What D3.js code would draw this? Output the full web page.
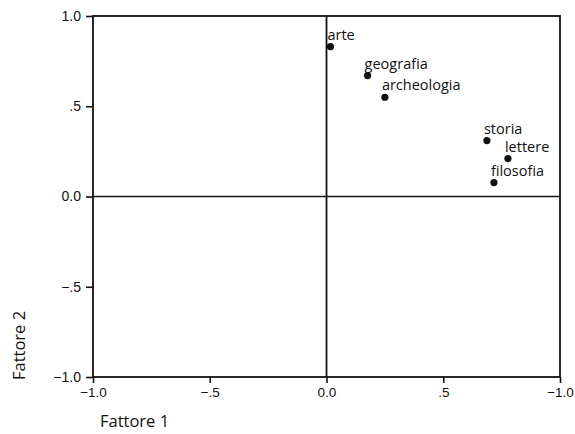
<!DOCTYPE html>
<html lang="it">
  <head>
    <meta charset="UTF-8" />
    <title>Fattore 1 / Fattore 2</title>
    <script src="https://d3js.org/d3.v7.min.js"></script>
    <style>
      body {
        margin: 0;
        background: #fff;
        font-family: "Open Sans", sans-serif;
      }
      .tick text {
        font-size: 14px;
        fill: #111;
      }
      .label {
        font-size: 14.5px;
        fill: #111;
      }
      .title {
        font-size: 16.5px;
        fill: #111;
      }
    </style>
  </head>
  <body>
    <svg id="chart" width="575" height="434"></svg>
    <script>
      // variables and their loadings on the two factors
      const variables = ["arte", "geografia", "archeologia", "storia", "lettere", "filosofia"];
      const fattore1 = [0.017, 0.176, 0.25, 0.687, 0.777, 0.717];
      const fattore2 = [0.83, 0.67, 0.55, 0.31, 0.21, 0.077];

      const xTicks = [-1, -0.5, 0, 0.5, 1];
      const xTickLabels = ["\u22121.0", "\u2212.5", "0.0", ".5", "\u22121.0"];
      const yTicks = [-1, -0.5, 0, 0.5, 1];
      const yTickLabels = ["\u22121.0", "\u2212.5", "0.0", ".5", "1.0"];

      const svg = d3.select("#chart");
      const margin = { top: 16, right: 15, bottom: 57, left: 93 };
      const width = +svg.attr("width") - margin.left - margin.right;
      const height = +svg.attr("height") - margin.top - margin.bottom;

      const g = svg
        .append("g")
        .attr("transform", `translate(${margin.left},${margin.top})`);

      const x = d3.scaleLinear().domain([-1, 1]).range([0, width]);
      const y = d3.scaleLinear().domain([-1, 1]).range([height, 0]);

      // frame
      g.append("rect")
        .attr("width", width)
        .attr("height", height)
        .attr("fill", "none")
        .attr("stroke", "#111")
        .attr("stroke-width", 1.8);

      // zero lines
      g.append("line")
        .attr("x1", x(0)).attr("x2", x(0))
        .attr("y1", 0).attr("y2", height)
        .attr("stroke", "#111").attr("stroke-width", 1.8);
      g.append("line")
        .attr("x1", 0).attr("x2", width)
        .attr("y1", y(0)).attr("y2", y(0))
        .attr("stroke", "#111").attr("stroke-width", 1.4);

      // axes
      const xAxis = g.append("g")
        .attr("transform", `translate(0,${height})`)
        .call(
          d3.axisBottom(x)
            .tickValues(xTicks)
            .tickSize(6)
            .tickPadding(4)
            .tickFormat((d, i) => xTickLabels[i])
        );
      const yAxis = g.append("g")
        .call(
          d3.axisLeft(y)
            .tickValues(yTicks)
            .tickSize(7)
            .tickPadding(5)
            .tickFormat((d, i) => yTickLabels[i])
        );
      [xAxis, yAxis].forEach((a) => {
        a.select(".domain").remove();
        a.selectAll(".tick line").attr("stroke", "#111").attr("stroke-width", 1.6);
        a.selectAll(".tick text").attr("font-family", null).attr("font-size", null);
      });
      xAxis.selectAll(".tick text").style("font-size", "13.5px");

      // points
      const data = variables.map((v, i) => ({ name: v, f1: fattore1[i], f2: fattore2[i] }));

      g.selectAll("circle")
        .data(data)
        .join("circle")
        .attr("cx", (d) => x(d.f1))
        .attr("cy", (d) => y(d.f2))
        .attr("r", 3.6)
        .attr("fill", "#111");

      g.selectAll(".label")
        .data(data)
        .join("text")
        .attr("class", "label")
        .attr("x", (d) => x(d.f1))
        .attr("y", (d) => y(d.f2))
        .attr("dx", -3)
        .attr("dy", -7)
        .text((d) => d.name);

      // axis titles
      svg.append("text")
        .attr("class", "title")
        .attr("x", 100)
        .attr("y", 427)
        .text("Fattore 1");

      svg.append("text")
        .attr("class", "title")
        .attr("transform", "translate(25,380) rotate(-90)")
        .text("Fattore 2");
    </script>
  </body>
</html>
